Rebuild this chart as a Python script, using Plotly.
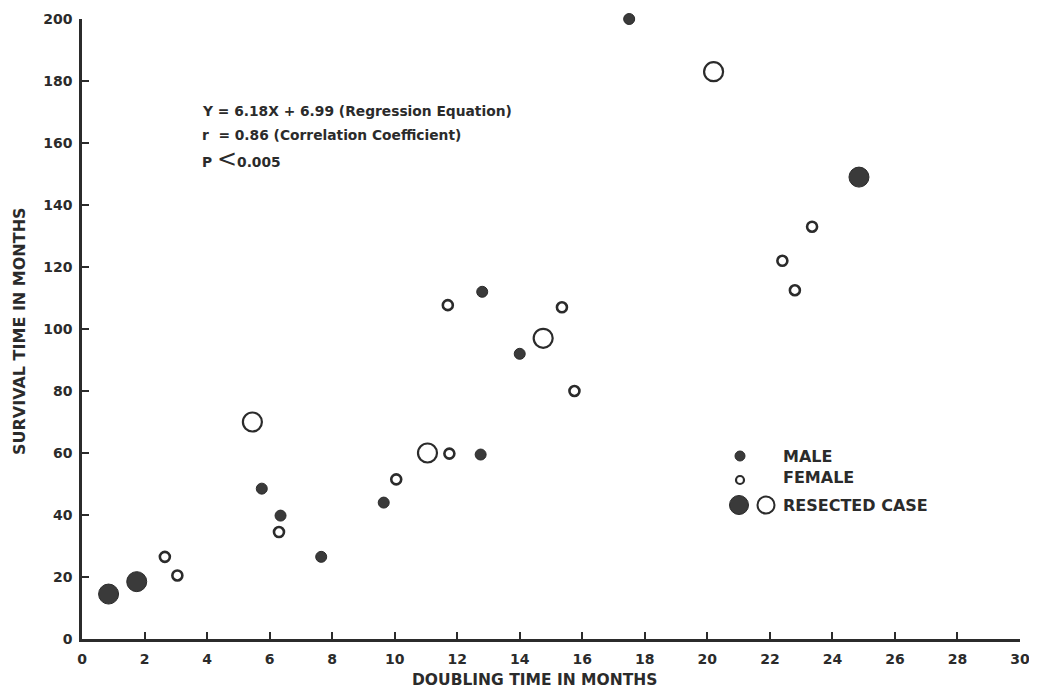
import plotly.graph_objects as go

# Data (doubling time in months, survival time in months)
male_x = [17.5, 12.8, 14.0, 12.75, 9.65, 5.75, 6.35, 7.65]
male_y = [200, 112, 92, 59.5, 44, 48.5, 39.8, 26.5]

female_x = [2.65, 3.05, 6.3, 10.05, 11.75, 11.7, 15.35, 15.75, 22.4, 23.35, 22.8]
female_y = [26.5, 20.5, 34.5, 51.5, 59.8, 107.7, 107, 80, 122, 133, 112.5]

res_male_x = [0.85, 1.75, 24.85]
res_male_y = [14.5, 18.5, 149]

res_female_x = [5.45, 11.05, 14.75, 20.2]
res_female_y = [70, 60, 97, 183]

x_ticks = list(range(0, 31, 2))
y_ticks = list(range(0, 201, 20))

DARK = "#2b2b2b"
FILL = "#3a3a3a"
FONT = "DejaVu Sans"

fig = go.Figure()

fig.add_trace(go.Scatter(x=male_x, y=male_y, mode="markers", name="MALE",
                         marker=dict(size=11, color=FILL, line=dict(width=1, color=DARK)),
                         cliponaxis=False, showlegend=False))
fig.add_trace(go.Scatter(x=female_x, y=female_y, mode="markers", name="FEMALE",
                         marker=dict(size=10, color="white", line=dict(width=2.6, color=DARK)),
                         cliponaxis=False, showlegend=False))
fig.add_trace(go.Scatter(x=res_male_x, y=res_male_y, mode="markers", name="RESECTED MALE",
                         marker=dict(size=20, color=FILL, line=dict(width=1, color=DARK)),
                         cliponaxis=False, showlegend=False))
fig.add_trace(go.Scatter(x=res_female_x, y=res_female_y, mode="markers", name="RESECTED FEMALE",
                         marker=dict(size=19, color="white", line=dict(width=2.2, color=DARK)),
                         cliponaxis=False, showlegend=False))

# page offset (default body margin) and figure geometry
OFF = 8
W, H = 1037 - 2 * OFF, 700 - 2 * OFF
L, T = 82 - OFF, 19 - OFF
R = W - (1020 - OFF)
B = H - (639 - OFF)
pw, ph = W - L - R, H - T - B


def px2paper(x, y):
    return (x - OFF - L) / pw, (H - B - (y - OFF)) / ph


def key_circle(px, py, d, filled, lw):
    a, b = px2paper(px, py)
    fig.add_shape(type="circle", xref="paper", yref="paper",
                  xsizemode="pixel", ysizemode="pixel",
                  xanchor=a, yanchor=b,
                  x0=-d / 2, x1=d / 2, y0=-d / 2, y1=d / 2,
                  fillcolor=FILL if filled else "white",
                  line=dict(color=DARK, width=lw))


for (x, y, d, f, lw) in [(740, 456, 10, True, 1), (740, 480, 8, False, 2.2),
                         (739, 505, 19, True, 1), (766, 505, 17, False, 2)]:
    key_circle(x, y, d, f, lw)

legend_texts = [("MALE", 456), ("FEMALE", 478), ("RESECTED CASE", 505)]
for t, y in legend_texts:
    a, b = px2paper(781, y)
    fig.add_annotation(x=a, y=b, xref="paper", yref="paper", text=t, showarrow=False,
                       xanchor="left", yanchor="middle",
                       font=dict(family=FONT, size=16, color=DARK, weight="bold"))

stats = ["Y = 6.18X + 6.99 (Regression Equation)",
         "r  = 0.86 (Correlation Coefficient)",
         "P <span style='font-size:24px;font-weight:normal'>&lt;</span>0.005"]
for t, y in zip(stats, [111, 135, 159]):
    a, b = px2paper(200, y)
    fig.add_annotation(x=a, y=b, xref="paper", yref="paper", text=t, showarrow=False,
                       xanchor="left", yanchor="middle",
                       font=dict(family=FONT, size=13.8, color=DARK, weight="bold"))

a, b = px2paper(534, 691)
fig.add_annotation(x=a, y=b, xref="paper", yref="paper", text="DOUBLING TIME IN MONTHS",
                   showarrow=False, xanchor="center", yanchor="bottom",
                   font=dict(family=FONT, size=15.5, color=DARK, weight="bold"))
a, b = px2paper(20, 331)
fig.add_annotation(x=a, y=b, xref="paper", yref="paper", text="SURVIVAL TIME IN MONTHS",
                   showarrow=False, xanchor="center", yanchor="middle", textangle=-90,
                   font=dict(family=FONT, size=16, color=DARK, weight="bold"))

axis_common = dict(showgrid=False, zeroline=False, showline=True, linewidth=2.5,
                   linecolor=DARK, ticks="inside", ticklen=7, tickwidth=2, tickcolor=DARK,
                   automargin=False, ticklabeloverflow="allow",
                   tickfont=dict(family=FONT, size=14, color=DARK, weight="bold"))

fig.update_xaxes(range=[0, 30], tickvals=x_ticks, ticktext=[str(v) for v in x_ticks],
                 ticklabelstandoff=5, **axis_common)
fig.update_yaxes(range=[0, 200], tickvals=y_ticks, ticktext=[str(v) for v in y_ticks],
                 ticklabelstandoff=4, **axis_common)

fig.update_layout(width=W, height=H, margin=dict(l=L, r=R, t=T, b=B),
                  plot_bgcolor="white", paper_bgcolor="white", showlegend=False)

fig.write_html("out.html")
